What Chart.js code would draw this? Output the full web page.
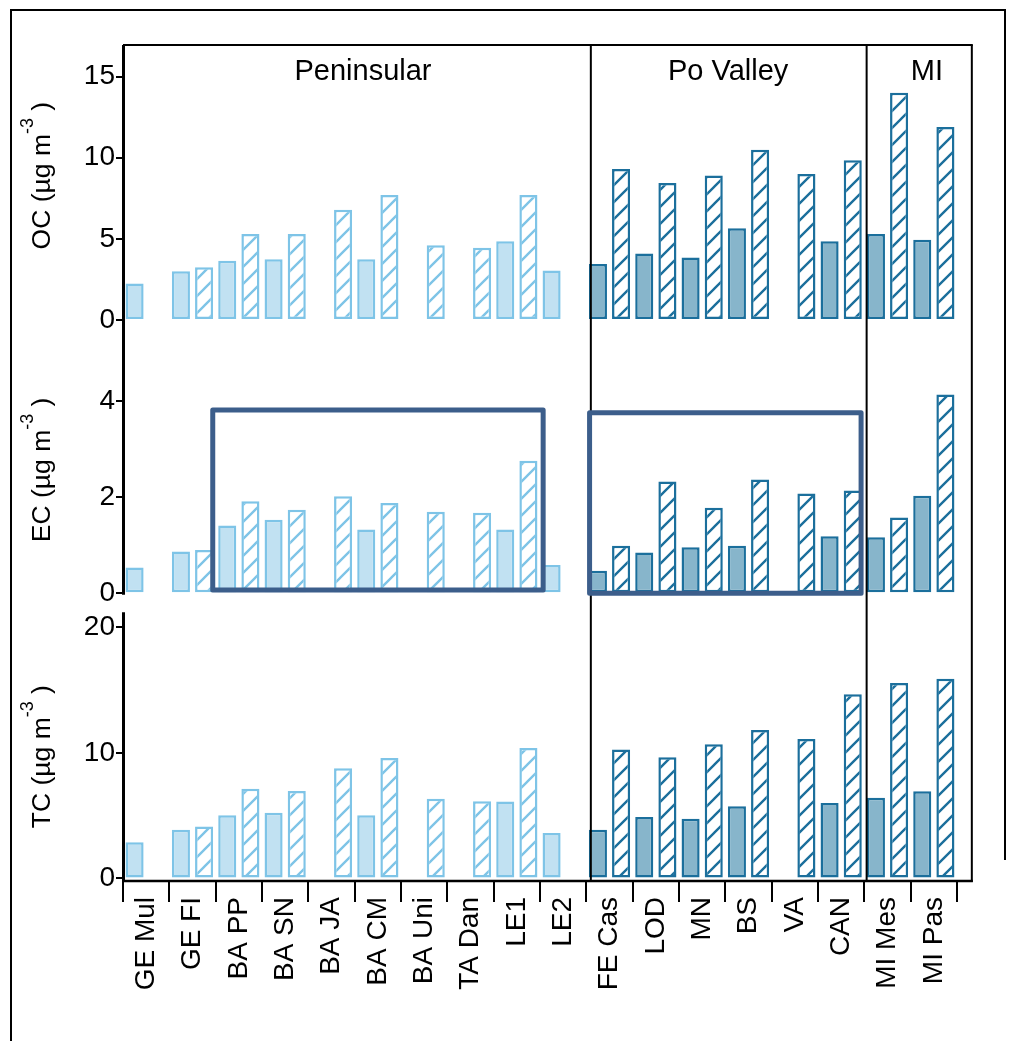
<!DOCTYPE html>
<html><head><meta charset="utf-8">
<script src="https://cdn.jsdelivr.net/npm/chart.js@4.4.1/dist/chart.umd.min.js"></script>
<style>html,body{margin:0;padding:0;background:#fff;} canvas{display:block}</style>
</head><body>
<canvas id="c" width="1015" height="1041"></canvas>
<script>
const categories = ['GE Mul','GE FI','BA PP','BA SN','BA JA','BA CM','BA Uni','TA Dan','LE1','LE2','FE Cas','LOD','MN','BS','VA','CAN','MI Mes','MI Pas'];
const ocSolid = [2.25,3.0,3.65,3.75,null,3.75,null,null,4.85,3.05, 3.45,4.1,3.85,5.65,null,4.85,5.3,4.95];
const ocHatch = [null,3.25,5.3,5.3,6.8,7.7,4.6,4.45,7.7,null, 9.3,8.45,8.9,10.5,9.0,9.85,14.0,11.9];
const ecSolid = [0.54,0.87,1.41,1.53,null,1.33,null,null,1.33,0.59, 0.47,0.85,0.96,0.99,null,1.19,1.17,2.03];
const ecHatch = [null,0.90,1.92,1.74,2.02,1.88,1.70,1.68,2.76,null, 0.99,2.33,1.78,2.37,2.08,2.14,1.58,4.14];
const tcSolid = [2.88,3.89,5.03,5.24,null,5.03,null,null,6.12,3.62, 3.89,4.9,4.76,5.75,null,6.01,6.43,6.94];
const tcHatch = [null,4.13,7.15,6.97,8.77,9.59,6.35,6.14,10.39,null, 10.26,9.65,10.68,11.82,11.1,14.66,15.57,15.91];
const ocTicks = [0,5,10,15];
const ecTicks = [0,2,4];
const tcTicks = [0,10,20];
const regionNames = ['Peninsular','Po Valley','MI'];
const regionStart = [0,10,16];

const fontFam = '"Liberation Sans", Arial, Helvetica, sans-serif';
const LIGHT_FILL = '#c1e1f2', LIGHT_LINE = '#7ec4e7';
const DARK_FILL = '#87b5cb', DARK_LINE = '#1b6f9c';
const BOX = '#3c5e8b';

const canvas = document.getElementById('c');
const mctx = canvas.getContext('2d');
function makeHatch(color){
  const s = 17, c = document.createElement('canvas'); c.width = s; c.height = s;
  const g = c.getContext('2d');
  g.fillStyle = '#fff'; g.fillRect(0,0,s,s);
  g.strokeStyle = color; g.lineWidth = 2.4;
  g.beginPath();
  g.moveTo(-2, s+2); g.lineTo(s+2, -2);
  g.moveTo(-s/2-2, s/2+2); g.lineTo(s/2+2, -s/2-2);
  g.moveTo(s/2-2, s*1.5+2); g.lineTo(s*1.5+2, s/2-2);
  g.stroke();
  return mctx.createPattern(c, 'repeat');
}
const hatchLight = makeHatch(LIGHT_LINE), hatchDark = makeHatch(DARK_LINE);
const isLight = i => i < regionStart[1];
const solidFill = ctx => isLight(ctx.dataIndex) ? LIGHT_FILL : DARK_FILL;
const lineCol = ctx => isLight(ctx.dataIndex) ? LIGHT_LINE : DARK_LINE;
const hatchFill = ctx => isLight(ctx.dataIndex) ? hatchLight : hatchDark;

function ds(data, axis, hatched){
  return {data, yAxisID: axis, stack: hatched ? 'h' : 's',
    backgroundColor: hatched ? hatchFill : solidFill, borderColor: lineCol,
    borderWidth: 2.5, borderSkipped: false, categoryPercentage: 1.0, barPercentage: 0.78};
}
function yScale(min, max, ticks, weight){
  return {type:'linear', position:'left', stack:'panels', stackWeight: weight, min, max, stacked:false,
    afterFit: s => { s.width = 123; },
    afterBuildTicks: s => { s.ticks = ticks.map(v => ({value: v})); },
    grid: {drawOnChartArea:false, drawTicks:true, tickLength:7, color:'#000', lineWidth:2},
    border: {display:false},
    ticks: {color:'#000', font:{family:fontFam, size:28}, padding:1}
  };
}

function line(ctx,x1,y1,x2,y2){ctx.beginPath();ctx.moveTo(x1,y1);ctx.lineTo(x2,y2);ctx.stroke();}
function yTitle(ctx, label, cy){
  const main = 26.5, sup = 18;
  ctx.save(); ctx.translate(50, cy); ctx.rotate(-Math.PI/2);
  ctx.fillStyle = '#000'; ctx.textBaseline = 'alphabetic'; ctx.textAlign = 'left';
  const p1 = label + ' (\u00b5g m', p2 = '-3', p3 = ' )';
  ctx.font = main + 'px ' + fontFam; const w1 = ctx.measureText(p1).width, w3 = ctx.measureText(p3).width;
  ctx.font = sup + 'px ' + fontFam; const w2 = ctx.measureText(p2).width;
  let x = -(w1 + w2 + w3) / 2;
  ctx.font = main + 'px ' + fontFam; ctx.fillText(p1, x, 0); x += w1;
  ctx.font = sup + 'px ' + fontFam; ctx.fillText(p2, x, -17); x += w2;
  ctx.font = main + 'px ' + fontFam; ctx.fillText(p3, x, 0);
  ctx.restore();
}

const deco = {id:'deco', afterDraw(chart){
  const ctx = chart.ctx, xs = chart.scales.x, yo = chart.scales.yOC, ye = chart.scales.yEC, yt = chart.scales.yTC;
  const cw = (xs.right - xs.left) / categories.length;
  const ux = u => xs.left + u * cw;
  const top = chart.chartArea.top, bot = chart.chartArea.bottom;
  const right = ux(categories.length + 0.32);
  ctx.save();
  ctx.strokeStyle = '#000'; ctx.lineCap = 'butt';
  ctx.lineWidth = 2;
  line(ctx, 11, 10, 1005, 10); line(ctx, 11, 9, 11, 1041); line(ctx, 1005, 9, 1005, 860);
  line(ctx, xs.left, top, right + 1, top); line(ctx, right, top, right, bot + 2);
  ctx.lineWidth = 2.5; line(ctx, xs.left - 1, bot + 1, right + 1, bot + 1);
  ctx.lineWidth = 3;
  line(ctx, xs.left + 0.5, top, xs.left + 0.5, ye.getPixelForValue(-0.03));
  line(ctx, xs.left + 0.5, yt.getPixelForValue(21.2), xs.left + 0.5, bot + 2);
  ctx.lineWidth = 2;
  const s1 = ux(regionStart[1]) + 4.5, s2 = ux(regionStart[2]) + 2.3;
  line(ctx, s1, top, s1, bot); line(ctx, s2, top, s2, bot);
  // highlight boxes in EC panel
  ctx.strokeStyle = BOX; ctx.lineWidth = 5; ctx.lineJoin = 'round';
  ctx.strokeRect(ux(1.937), ye.getPixelForValue(3.82), ux(9.068) - ux(1.937), ye.getPixelForValue(0.07) - ye.getPixelForValue(3.82));
  ctx.strokeRect(ux(10.07), ye.getPixelForValue(3.76), ux(15.93) - ux(10.07), ye.getPixelForValue(0.0) - ye.getPixelForValue(3.76));
  // region headers
  ctx.fillStyle = '#000'; ctx.font = '29px ' + fontFam; ctx.textAlign = 'center'; ctx.textBaseline = 'alphabetic';
  const hu = [5.18, 13.06, 17.35];
  regionNames.forEach((n, i) => ctx.fillText(n, ux(hu[i]), top + 35));
  // y titles
  yTitle(ctx, 'OC', yo.getPixelForValue(8.9));
  yTitle(ctx, 'EC', ye.getPixelForValue(2.57));
  yTitle(ctx, 'TC', yt.getPixelForValue(9.7));
  ctx.restore();
}};

new Chart(canvas, {
  type: 'bar',
  data: {labels: categories, datasets: [
    ds(ocSolid,'yOC',false), ds(ocHatch,'yOC',true),
    ds(ecSolid,'yEC',false), ds(ecHatch,'yEC',true),
    ds(tcSolid,'yTC',false), ds(tcHatch,'yTC',true)
  ]},
  options: {
    responsive:false, animation:false, devicePixelRatio:1,
    layout:{padding:{top:45, right:58, bottom:0, left:0}},
    plugins:{legend:{display:false}, tooltip:{enabled:false}},
    scales:{
      x:{type:'category', offset:true,
        afterFit: s => { s.height = 161; },
        grid:{offset:true, drawOnChartArea:false, drawTicks:true, tickLength:22, color:'#000', lineWidth:2},
        border:{display:false},
        ticks:{color:'#000', font:{family:fontFam, size:28}, minRotation:90, maxRotation:90, autoSkip:false, padding:-5}
      },
      yTC: yScale(-0.12, 22.49, tcTicks, 284),
      yEC: yScale(-0.056, 5.63, ecTicks, 273),
      yOC: yScale(-0.185, 16.95, ocTicks, 278)
    }
  },
  plugins:[deco]
});
</script>
</body></html>
